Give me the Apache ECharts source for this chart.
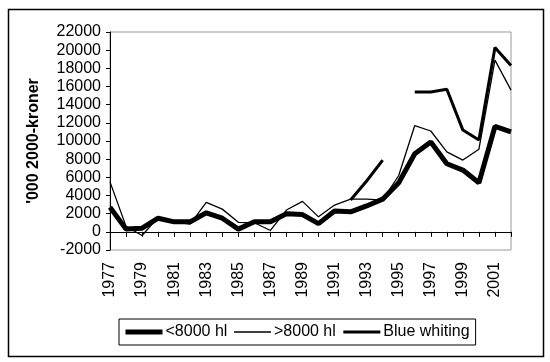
<!DOCTYPE html>
<html>
<head>
<meta charset="utf-8">
<script src="https://cdn.jsdelivr.net/npm/echarts@6/dist/echarts.min.js"></script>
<style>html,body{margin:0;padding:0;background:#fff;}#c{width:550px;height:362px;}</style>
</head>
<body>
<div id="c"></div>
<script>
var years = ['1977','1978','1979','1980','1981','1982','1983','1984','1985','1986','1987','1988','1989','1990','1991','1992','1993','1994','1995','1996','1997','1998','1999','2000','2001','2002'];
var small = [2700,300,400,1500,1100,1100,2100,1500,300,1100,1100,2000,1900,900,2300,2200,2850,3600,5400,8600,9900,7500,6800,5400,11600,11000];
var large = [5500,600,-400,1600,1100,850,3250,2500,1050,1000,150,2400,3350,1650,2950,3600,3600,3500,6200,11700,11100,8800,7900,9100,18900,15600];
var blueWhiting = [null,null,null,null,null,null,null,null,null,null,null,null,null,null,null,3500,5600,7900,null,15400,15400,15700,11200,10100,20300,18300];
var seriesNames = ['<8000 hl','>8000 hl','Blue whiting'];
var yMin = -2000, yMax = 22000, yStep = 2000;
var yName = "'000 2000-kroner";

var FONT = 'Liberation Sans, Arial, sans-serif';
var widths = [5, 1.3, 3];
var chart = echarts.init(document.getElementById('c'), null, {renderer:'canvas'});
chart.setOption({
  animation: false,
  backgroundColor: '#fff',
  textStyle: {fontFamily: FONT, color: '#000'},
  graphic: [{
    type: 'rect', left: 6, top: 7, z: -10,
    shape: {width: 535, height: 347},
    style: {fill: 'none', stroke: '#000', lineWidth: 1.5}
  }],
  grid: {left: 110, right: 39, top: 32, bottom: 112, show: true, borderColor: '#999', borderWidth: 1, backgroundColor: 'transparent'},
  legend: {
    left: 119, top: 319, width: 360,
    data: seriesNames.map(function (n, i) {
      return {name: n, itemStyle: {opacity: 0}, lineStyle: {width: widths[i], color: '#000'}};
    }),
    itemWidth: 37, itemHeight: 16, itemGap: 6,
    padding: [5, 6, 5, 4],
    borderColor: '#000', borderWidth: 1,
    itemStyle: {opacity: 0},
    textStyle: {fontFamily: FONT, fontSize: 16, color: '#000', padding: [0, 0, 0, -2]}
  },
  xAxis: [{
    type: 'category', data: years, boundaryGap: false, position: 'bottom',
    axisLine: {onZero: true, lineStyle: {color: '#000', width: 1}},
    axisTick: {show: true, length: 5, interval: 0, lineStyle: {color: '#000'}},
    axisLabel: {show: false},
    splitLine: {show: false}
  }, {
    type: 'category', data: years, boundaryGap: false, position: 'bottom',
    axisLine: {show: false, onZero: false},
    axisTick: {show: false},
    axisLabel: {show: true, interval: 1, rotate: 90, margin: 12, fontFamily: FONT, fontSize: 16, color: '#000'},
    splitLine: {show: false}
  }],
  yAxis: {
    type: 'value', min: yMin, max: yMax, interval: yStep,
    name: yName, nameLocation: 'middle', nameRotate: 90, nameGap: 68,
    nameTextStyle: {fontFamily: FONT, fontSize: 16, fontWeight: 'bold', color: '#000'},
    axisLine: {show: true, lineStyle: {color: '#000', width: 1}},
    axisTick: {show: true, length: 4, lineStyle: {color: '#000'}},
    axisLabel: {fontFamily: FONT, fontSize: 16, color: '#000', margin: 9, formatter: function (v) { return String(v); }},
    splitLine: {show: false}
  },
  series: [{
    name: seriesNames[0], type: 'line', data: small, xAxisIndex: 0,
    symbol: 'none', lineStyle: {color: '#000', width: widths[0]}, itemStyle: {color: '#000'}, z: 3
  }, {
    name: seriesNames[1], type: 'line', data: large, xAxisIndex: 0,
    symbol: 'none', lineStyle: {color: '#000', width: widths[1]}, itemStyle: {color: '#000'}, z: 4
  }, {
    name: seriesNames[2], type: 'line', data: blueWhiting, xAxisIndex: 0, connectNulls: false,
    symbol: 'none', lineStyle: {color: '#000', width: widths[2]}, itemStyle: {color: '#000'}, z: 5
  }]
});
</script>
</body>
</html>
